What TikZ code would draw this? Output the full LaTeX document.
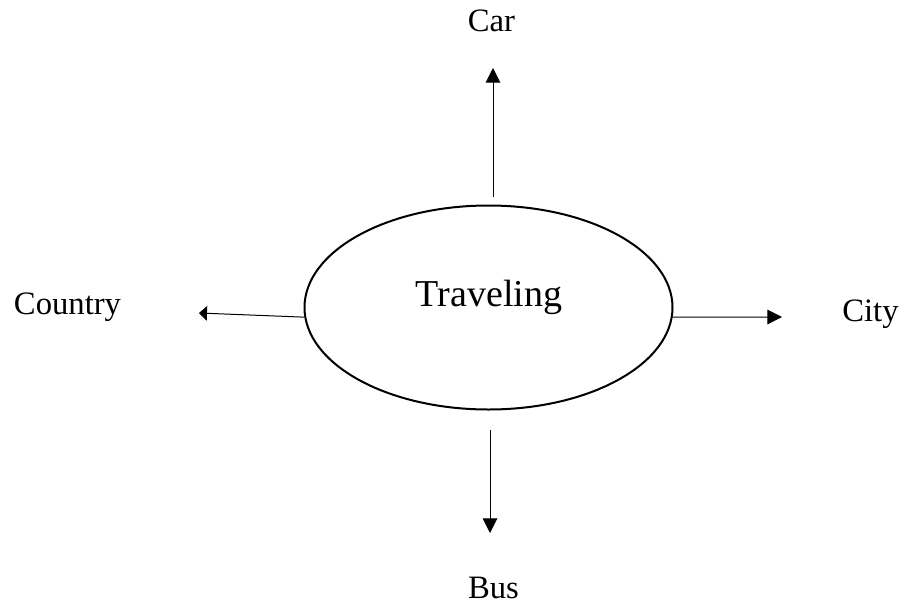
\documentclass[tikz,border=0pt]{standalone}
\usepackage{fontspec}
\setmainfont{Liberation Serif}
\usetikzlibrary{arrows.meta,shapes.geometric}

\tikzset{
  label/.style={anchor=base, font=\fontsize{24.5}{28}\selectfont},
  link/.style={-{Triangle[length=11pt,width=11pt]}, line width=0.75pt},
}

\begin{document}
\begin{tikzpicture}[x=0.75pt,y=-0.75pt]
    \useasboundingbox (0,0) rectangle (906,607);

    \node[draw, ellipse, line width=1.5pt, minimum width=276pt, minimum height=153pt,
          inner sep=0pt] (travel) at (488.5,307.5) {};
    \node[anchor=base, font=\fontsize{28.5}{32}\selectfont] (traveltext) at (489,306) {Traveling};

    \node[label] (car) at (491.5,31) {Car};
    \node[label] (country) at (67.5,314) {Country};
    \node[label] (city) at (870.5,321) {City};
    \node[label] (bus) at (493.5,598) {Bus};

    \coordinate (carfrom) at (493,197);
    \coordinate (carto) at (493,68);
    \coordinate (countryto) at (199,313);
    \coordinate (cityto) at (782,317);
    \coordinate (busfrom) at (490,430);
    \coordinate (busto) at (490,533);

    \draw[link] (carfrom) -- (carto);
    \draw[-{Triangle[length=6pt,width=11pt]}, line width=0.75pt] (travel.183) -- (countryto);
    \draw[link] (travel.-3) -- (cityto);
    \draw[link] (busfrom) -- (busto);
\end{tikzpicture}
\end{document}
